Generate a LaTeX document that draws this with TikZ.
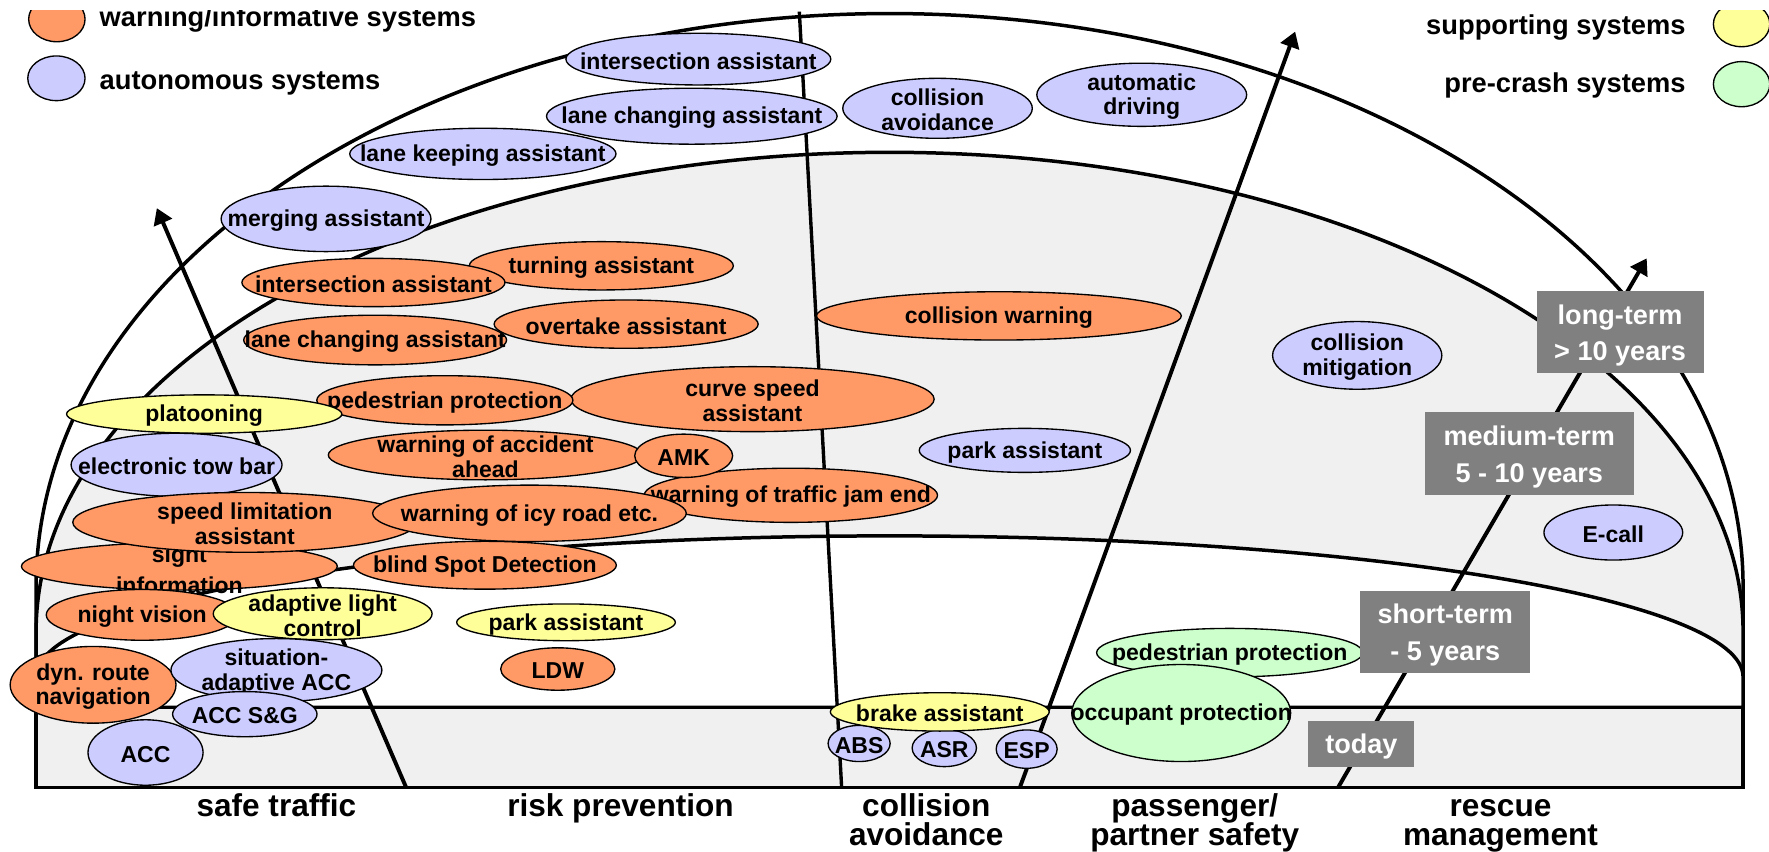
\documentclass[tikz,border=0pt]{standalone}
\usepackage{fontspec}
\setmainfont{Liberation Sans}
\usetikzlibrary{arrows.meta,shapes.geometric}
\definecolor{orangefill}{HTML}{FF9966}
\definecolor{bluefill}{HTML}{CCCCFF}
\definecolor{yellowfill}{HTML}{FFFF99}
\definecolor{greenfill}{HTML}{CCFFCC}
\definecolor{bandgray}{HTML}{F0F0F0}
\definecolor{boxgray}{HTML}{808080}
\newcommand{\sysnode}[7]{%
  \node[#1, minimum width=#5pt, minimum height=#6pt] (#2) at (#3,#4) {};
  \node[systext] (#2t) at (#2.center) {#7};%
}
\begin{document}
\begin{tikzpicture}[x=0.5pt,y=-0.5pt,
  ell/.style={ellipse, draw=black, line width=0.6pt, inner sep=0pt, outer sep=0pt},
  warn/.style={ell, fill=orangefill},
  aut/.style={ell, fill=bluefill},
  supp/.style={ell, fill=yellowfill},
  pre/.style={ell, fill=greenfill},
  systext/.style={font=\fontsize{10.2}{11}\selectfont\bfseries, align=center, inner sep=0pt, yshift=-0.8pt},
  legtext/.style={font=\fontsize{12.1}{14}\selectfont\bfseries, inner sep=0pt},
  areatext/.style={font=\fontsize{14}{12.5}\selectfont\bfseries, inner sep=0pt, anchor=base},
  termbox/.style={rectangle, fill=boxgray, inner sep=0pt},
  termtext/.style={text=white, inner sep=0pt, align=center,
    font=\fontsize{12}{16.2}\selectfont\bfseries},
  arcline/.style={line width=1.55pt, draw=black},
  bandline/.style={line width=1.45pt, draw=black},
  axisline/.style={line width=1.5pt, draw=black},
  axisarrow/.style={line width=1.75pt, draw=black, -{Triangle[length=7pt,width=8.5pt]}}
]
\useasboundingbox (0,0) rectangle (1568,755);
\fill[white] (0,0) rectangle (1568,755);
\clip (0,9.5) rectangle (1568,755);

% regions
\draw[arcline, fill=white] (32,627) -- (32,520) arc[start angle=180,end angle=0,x radius=378.25pt,y radius=254pt] -- (1545,627) -- cycle;
\draw[arcline, fill=bandgray] (32,627) -- (32,560) arc[start angle=180,end angle=0,x radius=378.25pt,y radius=212.5pt] -- (1545,627) -- cycle;
\draw[arcline, fill=white] (32,627) -- (32,600) arc[start angle=180,end angle=0,x radius=378.25pt,y radius=62.5pt] -- (1545,627) -- cycle;
\draw[bandline, fill=bandgray] (32,627) rectangle (1545,698);

% axes
\coordinate (a1s) at (360,698);  \coordinate (a1e) at (139,184.5);
\coordinate (l2s) at (746,698);  \coordinate (l2e) at (708.5,10.3);
\coordinate (a3s) at (904,698);  \coordinate (a3e) at (1148,28);
\coordinate (a4s) at (1186,698); \coordinate (a4e) at (1459.6,229);
\draw[axisarrow] (a1s) -- (a1e);
\draw[axisline] (l2s) -- (l2e);
\draw[axisarrow] (a3s) -- (a3e);
\draw[axisarrow] (a4s) -- (a4e);

% legend
\node[warn, minimum width=25pt, minimum height=20pt] (legw) at (50.4,17) {};
\node[aut, minimum width=25.4pt, minimum height=19.8pt] (lega) at (50,69.4) {};
\node[supp, minimum width=25pt, minimum height=20pt] (legs) at (1543.7,21.4) {};
\node[pre, minimum width=25pt, minimum height=20pt] (legp) at (1543.7,74.6) {};
\node[legtext, anchor=base west] (legwt) at (88,23.6) {warning/informative systems};
\node[legtext, anchor=base west] (legat) at (88,79.2) {autonomous systems};
\node[legtext, anchor=base east] (legst) at (1494.5,31) {supporting systems};
\node[legtext, anchor=base east] (legpt) at (1494.5,81.8) {pre-crash systems};

% systems
\sysnode{aut}{iab}{619}{52.4}{117.4}{22.9}{intersection assistant}
\sysnode{aut}{lcab}{613.2}{103}{128.8}{24.8}{lane changing assistant}
\sysnode{aut}{lka}{428}{136.4}{118}{22.7}{lane keeping assistant}
\sysnode{aut}{ma}{289}{194}{93}{29}{merging assistant}
\sysnode{aut}{ca}{831}{96}{84}{26.6}{collision\\avoidance}
\sysnode{aut}{ad}{1012}{84}{93}{28}{automatic\\driving}

\sysnode{warn}{ta}{533}{235.6}{117}{21.4}{turning assistant}
\sysnode{warn}{iao}{331}{250.4}{116.6}{21.4}{intersection assistant}
\sysnode{warn}{oa}{555}{287.3}{117}{21.4}{overtake assistant}
\sysnode{warn}{lcao}{332.5}{301.4}{116.5}{22}{lane changing assistant}
\sysnode{warn}{cw}{885.4}{280}{161.7}{21.4}{collision warning}
\sysnode{warn}{csa}{667}{353.8}{161}{28.8}{curve speed\\assistant}
\sysnode{warn}{ppo}{394.3}{354.8}{113.5}{21.8}{pedestrian protection}
\sysnode{supp}{plat}{181}{367}{122}{17}{platooning}
\sysnode{aut}{etb}{156.5}{412}{93.5}{28}{electronic tow bar}
\sysnode{warn}{waa}{430.3}{403.3}{139.3}{22}{warning of accident\\ahead}
\sysnode{warn}{wtj}{701}{439}{130}{24}{warning of traffic jam end}
\sysnode{warn}{amk}{606}{404}{43.4}{19.2}{AMK}
\node[warn, minimum width=140pt, minimum height=21pt] (si) at (159,502) {};
\node[systext, font=\fontsize{10.2}{13.5}\selectfont\bfseries] (sit) at (159,503.5) {sight\\information};
\sysnode{warn}{sla}{217}{463}{152.5}{26.5}{speed limitation\\assistant}
\sysnode{warn}{wir}{469.3}{455}{139}{25}{warning of icy road etc.}
\sysnode{warn}{bsd}{429.8}{501}{116.5}{21.2}{blind Spot Detection}
\sysnode{warn}{nv}{126}{545}{85}{22.5}{night vision}
\sysnode{supp}{alc}{286}{544}{97}{23}{adaptive light\\control}
\sysnode{supp}{pay}{501.7}{551.6}{96.9}{16.3}{park assistant}
\sysnode{warn}{ldw}{494.4}{593}{50.6}{18.8}{LDW}
\sysnode{aut}{pab}{908.4}{399.2}{93.6}{19.5}{park assistant}
\sysnode{aut}{cm}{1203}{315}{75}{30}{collision\\mitigation}
\sysnode{aut}{ecall}{1430}{472}{61.5}{24.4}{E-call}
\sysnode{aut}{acc}{129}{667}{51}{29}{ACC}
\sysnode{warn}{drn}{82.5}{607}{73.5}{34}{dyn. route\\navigation}
\sysnode{aut}{saacc}{245}{594}{93.5}{28}{situation-\\adaptive ACC}
\sysnode{aut}{accsg}{217}{633}{64}{20}{ACC S\&G}
\sysnode{aut}{abs}{761.5}{659}{27.5}{16}{ABS}
\sysnode{aut}{asr}{837}{663}{28.5}{16.5}{ASR}
\sysnode{aut}{esp}{910}{664}{27}{17}{ESP}
\sysnode{supp}{ba}{833}{631}{97}{17}{brake assistant}
\sysnode{pre}{ppg}{1090}{578.5}{118}{21.5}{pedestrian protection}
\sysnode{pre}{op}{1047}{632}{97}{43}{occupant protection}

% time boxes
\node[termbox, minimum width=74pt, minimum height=36.5pt] (long) at (1436,294.5) {};
\node[termtext] (longt) at (1436,297.5) {long-term\\> 10 years};
\node[termbox, minimum width=92.5pt, minimum height=37pt] (medium) at (1355.5,402) {};
\node[termtext] (mediumt) at (1355.5,405) {medium-term\\5 - 10 years};
\node[termbox, minimum width=75.5pt, minimum height=36.5pt] (short) at (1281,560) {};
\node[termtext] (shortt) at (1281,563) {short-term\\- 5 years};
\node[termbox, minimum width=47pt, minimum height=20.5pt] (today) at (1206.7,659.4) {};
\node[termtext] (todayt) at (1206.7,661.5) {today};

% area labels
\node[areatext] (st) at (245,724) {safe traffic};
\node[areatext] (rp) at (550,724) {risk prevention};
\node[areatext] (ca1) at (821,724) {collision};
\node[areatext] (ca2) at (821,749) {avoidance};
\node[areatext] (ps1) at (1059,724) {passenger/};
\node[areatext] (ps2) at (1059,749) {partner safety};
\node[areatext] (rm1) at (1330,724) {rescue};
\node[areatext] (rm2) at (1330,749) {management};
\end{tikzpicture}
\end{document}
